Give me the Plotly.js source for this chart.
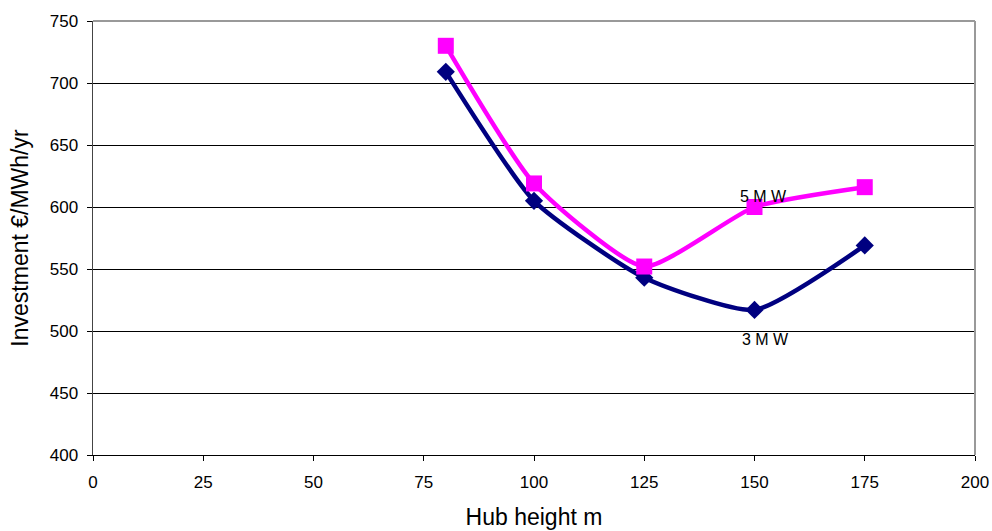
<!DOCTYPE html>
<html>
<head>
<meta charset="utf-8">
<script src="https://cdn.plot.ly/plotly-3.0.1.min.js"></script>
<style>
  html, body { margin: 0; padding: 0; background: #fff; }
  #chart { width: 992px; height: 531px; }
</style>
</head>
<body>
<div id="chart"></div>
<script>
// Hub heights (m) and specific investment per annual yield (€/MWh/yr)
const hubHeights = [80, 100, 125, 150, 175];
const invest3MW = [709, 605, 543, 517, 569];
const invest5MW = [730, 619, 552, 600, 616];
const seriesNames = ['3 M W', '5 M W'];

const font = 'Liberation Sans, Arial, sans-serif';

const traces = [
  {
    x: hubHeights, y: invest3MW, name: seriesNames[0],
    type: 'scatter', mode: 'lines+markers',
    line: { color: '#000080', width: 4.5, shape: 'spline', smoothing: 0.55 },
    marker: { symbol: 'diamond', size: 14, color: '#000080' }
  },
  {
    x: hubHeights, y: invest5MW, name: seriesNames[1],
    type: 'scatter', mode: 'lines+markers',
    line: { color: '#FF00FF', width: 4.5, shape: 'spline', smoothing: 0.55 },
    marker: { symbol: 'square', size: 16, color: '#FF00FF' }
  }
];

const layout = {
  width: 992, height: 531,
  margin: { l: 93, r: 17, t: 21, b: 76 },
  paper_bgcolor: '#fff', plot_bgcolor: '#fff',
  showlegend: false,
  font: { family: font, color: '#000', size: 17 },
  xaxis: {
    range: [0, 200], tickvals: [0, 25, 50, 75, 100, 125, 150, 175, 200],
    ticks: 'outside', ticklen: 5, tickcolor: '#000', tickwidth: 1,
    ticklabelstandoff: 7,
    showgrid: false, zeroline: false,
    showline: true, linecolor: '#000', linewidth: 1, mirror: false,
    tickfont: { family: font, size: 17 },
    title: { text: 'Hub height m', font: { family: font, size: 23 }, standoff: 17 }
  },
  yaxis: {
    range: [400, 750], tickvals: [400, 450, 500, 550, 600, 650, 700, 750],
    ticks: 'outside', ticklen: 5, tickcolor: '#000', tickwidth: 1,
    ticklabelstandoff: 5,
    showgrid: true, gridcolor: '#000', gridwidth: 1, zeroline: false,
    showline: true, linecolor: '#444', linewidth: 1.5,
    tickfont: { family: font, size: 17 },
    title: { text: 'Investment €/MWh/yr', font: { family: font, size: 23 }, standoff: 14 }
  },
  shapes: [
    // grey frame on the top and right edges of the plot area
    { type: 'line', xref: 'paper', yref: 'paper', x0: 0, x1: 1, y0: 1, y1: 1,
      line: { color: '#999', width: 2 } },
    { type: 'line', xref: 'paper', yref: 'paper', x0: 1, x1: 1, y0: 0, y1: 1,
      line: { color: '#999', width: 2 } }
  ],
  annotations: [
    { x: 150, y: 517, text: seriesNames[0], showarrow: false, yshift: -30, xshift: 11,
      font: { family: font, size: 16 } },
    { x: 150, y: 600, text: seriesNames[1], showarrow: false, yshift: 11, xshift: 9,
      font: { family: font, size: 16 } }
  ]
};

Plotly.newPlot('chart', traces, layout, { displayModeBar: false, staticPlot: true });
</script>
</body>
</html>
